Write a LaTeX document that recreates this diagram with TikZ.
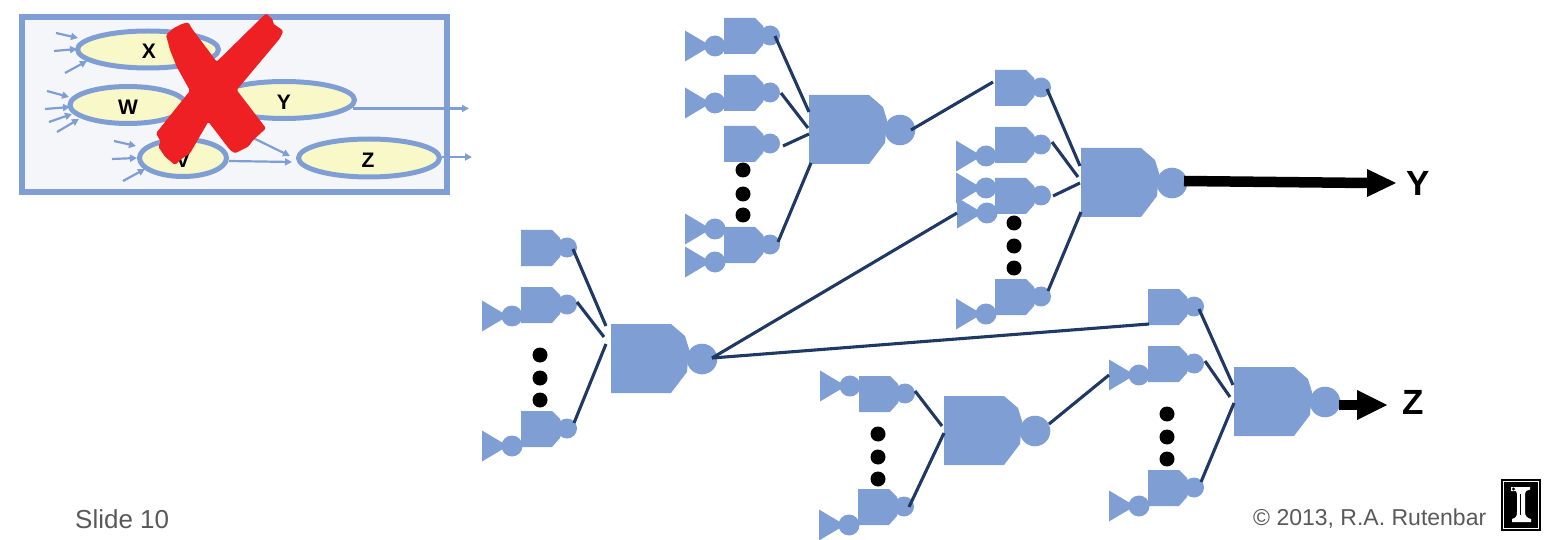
\documentclass[tikz,border=0pt]{standalone}
\usepackage{fontspec}
\setmainfont{Liberation Sans}
\usetikzlibrary{arrows.meta,calc,shapes.geometric}
\definecolor{gateblue}{HTML}{7F9FD4}
\definecolor{wirenavy}{HTML}{1F3864}
\definecolor{insetbg}{HTML}{F5F6FA}
\definecolor{ellfill}{HTML}{F9F8C9}
\definecolor{xred}{HTML}{EE2024}
\definecolor{credit}{HTML}{595959}
\tikzset{
  wire/.style={draw=wirenavy,line width=3.1pt},
  smallarrow/.style={draw=gateblue,line width=2.2pt,-{Triangle[length=7pt,width=7pt]}},
  procell/.style={draw=gateblue,line width=5pt,fill=ellfill,ellipse,inner sep=0pt},
  ell/.style={font=\fontsize{21}{24}\selectfont\bfseries,inner sep=0pt},
  outlabel/.style={font=\fontsize{35}{38}\selectfont\bfseries,inner sep=0pt},
  footer/.style={text=credit,inner sep=0pt},
  dot/.style={fill=black,circle,inner sep=0pt,minimum size=15pt},
  smallgate/.pic={
    \fill[gateblue] (0,0)--(31,0)--(39,8)--(42,17)--(39,27)--(31,36)--(0,36)--cycle;
    \fill[gateblue] (46,17.5) circle[radius=10pt];
  },
  largegate/.pic={
    \fill[gateblue] (0,0)--(60,0)--(74,12)--(78,25)--(76,48)--(60,69)--(0,69)--cycle;
    \fill[gateblue] (91,35) circle[radius=15.3pt];
  },
  buffer/.pic={
    \fill[gateblue] (0,-15.5)--(26,0)--(0,15.5)--cycle;
    \fill[gateblue] (30,0) circle[radius=10.5pt];
  }
}
\begin{document}
\begin{tikzpicture}[x=1pt,y=-1pt]
\useasboundingbox (0,0) rectangle (1550,540);
% ---------- inset ----------
\draw[gateblue,line width=6pt,fill=insetbg] (22,17) rectangle (447,192);
\node[procell,minimum width=141pt,minimum height=37pt] (cx) at (148,49.5) {};
\node[procell,minimum width=116pt,minimum height=37pt] (cw) at (128,105) {};
\node[procell,minimum width=141pt,minimum height=37pt] (cy) at (284,100) {};
\node[procell,minimum width=87pt,minimum height=37pt] (cv) at (183,158) {};
\node[procell,minimum width=141pt,minimum height=38pt] (cz) at (369,158) {};
\node[ell] (lx) at (149,51) {X};
\node[ell] (lw) at (128,107) {W};
\node[ell] (ly) at (284,102) {Y};
\node[ell] (lv) at (183,160) {V};
\node[ell] (lz) at (368,160) {Z};
\foreach \a/\b/\c/\d in {56/33/78/38, 54/51/77/49, 65/73/87/61,
  47/91/69/97, 45/109/70/107, 49/122/72/114, 57/132/79/119,
  114/141/136/146, 112/159/137/158, 123/181/145/169,
  229/161/292/162, 245/134/290/156, 353/108.5/469/108.5, 442/157/472/157}
  \draw[smallarrow] (\a,\b) -- (\c,\d);
\fill[xred,rounded corners=1.5pt] (181.7,24) -- (188.3,22.3) -- (191.7,28.3) -- (216.7,61.7) -- (266,13.3) -- (273.3,20) -- (272.7,23.3) -- (283.3,30.7) -- (280,38.3) -- (236.7,90) -- (266,128.3) -- (253.3,140) -- (248.3,146.7) -- (235,153.3) -- (230,150) -- (208.3,121.7) -- (190,153.3) -- (180,160) -- (175,165) -- (165,156.7) -- (158.3,146.7) -- (160.7,141.7) -- (156,133.3) -- (190,90.7) -- (176.7,66.7) -- (170,50) -- (166,35) -- (173.3,28.3) -- cycle;
% ---------- gates ----------
\foreach \x/\y in {724/18,724/75,724/126,724/227, 995/70,995/127,995/178,995/279,
  521/230,521/287,521/411, 1148/289,1148/346,1148/470, 859/376,858/489}
  \pic at (\x,\y) {smallgate};
\foreach \x/\y in {809/95,1081/148,611/324,1234/367,944/396}
  \pic at (\x,\y) {largegate};
\foreach \x/\y in {685/46,685/103,685/229,685/262, 956/156,956/188,957/213,956/314,
  482/316,482/446, 1109/375,1109/506, 820/386,819/525}
  \pic at (\x,\y) {buffer};
% ---------- dots ----------
\foreach \x/\y in {743/170,743/194,743/215, 1014/223,1014/246,1014/268,
  540/355,540/378,540/400, 1167/414,1167/437,1167/459, 878/434,878/457,878/479}
  \node[dot] at (\x,\y) {};
% ---------- wire ends ----------
\coordinate (a1) at (775,36);   \coordinate (a1i) at (809,112);
\coordinate (a2) at (781,93);   \coordinate (a2i) at (808,128);
\coordinate (a3) at (783,146);  \coordinate (a3i) at (809,134);
\coordinate (a4) at (778,242);  \coordinate (a4i) at (811,163);
\coordinate (ao) at (911,130);  \coordinate (b1n) at (993,82);
\coordinate (b1) at (1047,89);  \coordinate (b1i) at (1080,166);
\coordinate (b2) at (1052,142); \coordinate (b2i) at (1078,177);
\coordinate (b3) at (1053,196); \coordinate (b3i) at (1080,183);
\coordinate (b4) at (1048,291); \coordinate (b4i) at (1081,212);
\coordinate (c1) at (573,249);  \coordinate (c1i) at (606,326);
\coordinate (c2) at (577,302);  \coordinate (c2i) at (604,337);
\coordinate (c3) at (574,423);  \coordinate (c3i) at (606,344);
\coordinate (co) at (712,358);  \coordinate (bufn) at (957,213);
\coordinate (d1n) at (1149,324);
\coordinate (d1) at (1199,309); \coordinate (d1i) at (1233,385);
\coordinate (d2) at (1205,361); \coordinate (d2i) at (1230,397);
\coordinate (d3) at (1201,482); \coordinate (d3i) at (1234,403);
\coordinate (e1) at (915,391);  \coordinate (e1i) at (942,426);
\coordinate (e2) at (909,507);  \coordinate (e2i) at (944,433);
\coordinate (eo) at (1049,424); \coordinate (dbuf) at (1109,375);
\foreach \p/\q in {a1/a1i,a2/a2i,a3/a3i,a4/a4i,ao/b1n,b1/b1i,b2/b2i,b3/b3i,b4/b4i,
  c1/c1i,c2/c2i,c3/c3i,co/bufn,co/d1n,d1/d1i,d2/d2i,d3/d3i,e1/e1i,e2/e2i,eo/dbuf}
  \draw[wire] (\p) -- (\q);
% ---------- outputs ----------
\coordinate (yo) at (1184,181); \coordinate (yh) at (1368,183);
\coordinate (zo) at (1339,405); \coordinate (zh) at (1358,405);
\draw[black,line width=10.5pt] (yo) -- (yh);
\fill[black] (1367,169) -- (1396,183) -- (1367,197) -- cycle;
\draw[black,line width=10.5pt] (zo) -- (zh);
\fill[black] (1357,390) -- (1387,405) -- (1357,420) -- cycle;
\node[outlabel] (ylab) at (1418,183) {Y};
\node[outlabel] (zlab) at (1413,402) {Z};
% ---------- footer ----------
\node[footer,font=\fontsize{26}{29}\selectfont,anchor=west] (slide) at (75,519) {Slide 10};
\node[footer,font=\fontsize{23}{27}\selectfont,anchor=west] (copy) at (1253,519) {© 2013, R.A. Rutenbar};
% ---------- logo ----------
\fill[black] (1500.5,478.5) rectangle (1541,531);
\draw[white,line width=0.7pt] (1503.5,481.5) rectangle (1538.5,528);
\fill[white] (1511,487) -- (1530,487) -- (1530,489.5) -- (1526,491) -- (1525,494) -- (1525,512) .. controls (1525,516) and (1527,518) .. (1531,519) -- (1531,522) -- (1512,522) -- (1512,519) .. controls (1516,518) and (1517,516) .. (1517,512) -- (1517,494) -- (1516,491) -- (1511,491) -- cycle;
\draw[black,line width=0.8pt] (1520,494) -- (1520,515);
\draw[black,line width=0.8pt] (1513.5,489) circle[radius=1pt];
\end{tikzpicture}
\end{document}
